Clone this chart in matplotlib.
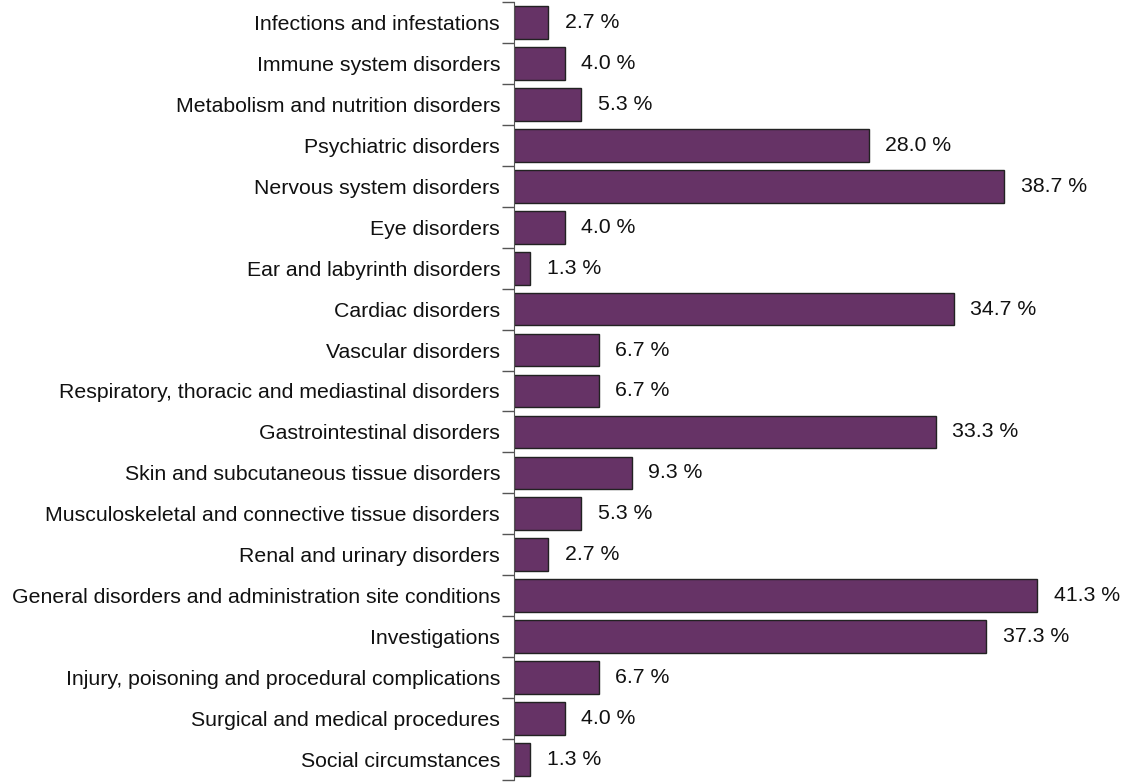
import numpy as np
import matplotlib.pyplot as plt
from matplotlib.ticker import FixedLocator

categories = [
    "Infections and infestations",
    "Immune system disorders",
    "Metabolism and nutrition disorders",
    "Psychiatric disorders",
    "Nervous system disorders",
    "Eye disorders",
    "Ear and labyrinth disorders",
    "Cardiac disorders",
    "Vascular disorders",
    "Respiratory, thoracic and mediastinal disorders",
    "Gastrointestinal disorders",
    "Skin and subcutaneous tissue disorders",
    "Musculoskeletal and connective tissue disorders",
    "Renal and urinary disorders",
    "General disorders and administration site conditions",
    "Investigations",
    "Injury, poisoning and procedural complications",
    "Surgical and medical procedures",
    "Social circumstances",
]
percent = [2.7, 4.0, 5.3, 28.0, 38.7, 4.0, 1.3, 34.7, 6.7, 6.7,
           33.3, 9.3, 5.3, 2.7, 41.3, 37.3, 6.7, 4.0, 1.3]

plt.rcParams['font.family'] = ['Liberation Sans', 'DejaVu Sans']

fig = plt.figure(figsize=(11.31, 7.83), dpi=100)
ax = fig.add_axes([514 / 1131, 3 / 783, 570 / 1131, 778 / 783])

y = np.arange(len(categories))
ax.barh(y, percent, height=0.8, color='#663366', edgecolor='#222222', linewidth=1)

for yi, v in zip(y, percent):
    ax.text(v + 1.3, yi, f"{v:.1f} %", va='center', ha='left', fontsize=15.3, color='#111111')

ax.set_ylim(len(categories) - 0.5, -0.5)
ax.set_xlim(0, 45)
ax.set_yticks(y)
ax.set_yticklabels(categories, fontsize=15.3, color='#111111')
ax.tick_params(axis='y', which='major', length=0, pad=10)
ax.yaxis.set_minor_locator(FixedLocator(np.arange(-0.5, len(categories), 1)))
ax.tick_params(axis='y', which='minor', length=9, width=1, color='#555555')
ax.set_xticks([])

for s in ['top', 'right', 'bottom']:
    ax.spines[s].set_visible(False)
ax.spines['left'].set_color('#555555')

fig.savefig('out.png', dpi=100)
